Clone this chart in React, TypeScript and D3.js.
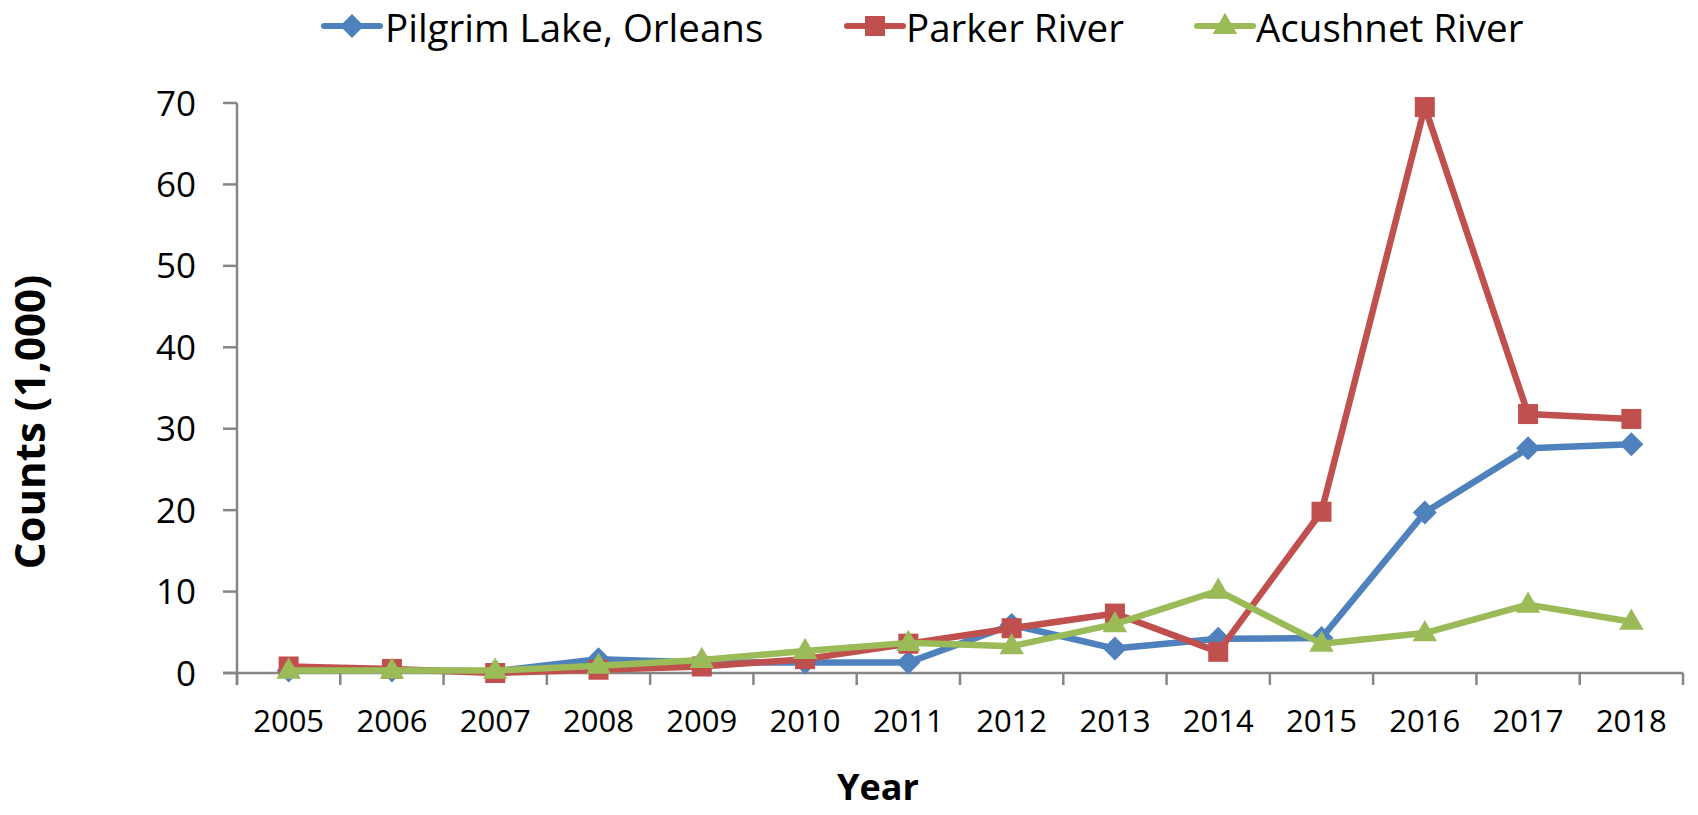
import React from "react";
import * as d3 from "d3";

const years = ["2005","2006","2007","2008","2009","2010","2011","2012","2013","2014","2015","2016","2017","2018"];
const pilgrim = [0.3, 0.3, 0.2, 1.7, 1.3, 1.3, 1.3, 5.9, 3.0, 4.2, 4.3, 19.7, 27.6, 28.1];
const parker = [0.8, 0.5, 0.0, 0.4, 0.8, 1.7, 3.6, 5.5, 7.3, 2.6, 19.8, 69.5, 31.8, 31.2];
const acushnet = [0.3, 0.3, 0.3, 0.9, 1.6, 2.7, 3.7, 3.3, 6.0, 10.1, 3.6, 4.9, 8.4, 6.3];
const yTicks = [0, 10, 20, 30, 40, 50, 60, 70];

const seriesNames = ["Pilgrim Lake, Orleans", "Parker River", "Acushnet River"];
const seriesColors = ["#4F81BD", "#C0504D", "#9BBB59"];
const seriesShapes = ["diamond", "square", "triangle"];
const seriesValues = [pilgrim, parker, acushnet];

const W = 1698, H = 815;
const left = 237, right = 1683, top = 103, bottom = 673;
const FONT = "'Open Sans', 'Noto Sans', sans-serif";

function Marker({ shape, x, y, color }: { shape: string; x: number; y: number; color: string }) {
  if (shape === "square") return <rect x={x - 10} y={y - 10} width={20} height={20} fill={color} />;
  if (shape === "diamond") {
    const r = 12;
    return <path d={`M${x},${y - r}L${x + r},${y}L${x},${y + r}L${x - r},${y}Z`} fill={color} />;
  }
  const p = d3.symbol().type(d3.symbolTriangle).size(260)();
  return <path d={p || ""} transform={`translate(${x},${y + 1})`} fill={color} />;
}

export default function App() {
  const x = d3.scaleBand().domain(years).range([left, right]).padding(0);
  const y = d3.scaleLinear().domain([0, 70]).range([bottom, top]);
  const cx = (yr: string) => (x(yr) as number) + x.bandwidth() / 2;
  const line = d3.line<number>().x((_, i) => cx(years[i])).y((v) => y(v));
  const boundaries = years.map((yr) => x(yr) as number).concat([right]);
  const axisColor = "#868686";

  const legendItems = [
    { marker: 352, text: 385 },
    { marker: 875, text: 906 },
    { marker: 1225, text: 1256 },
  ];

  return (
    <svg width={W} height={H} style={{ position: "absolute", left: 0, top: 0, background: "#fff" }} fontFamily={FONT}>
      {/* y axis */}
      <line x1={left} x2={left} y1={top} y2={bottom + 12} stroke={axisColor} strokeWidth={2.5} />
      {yTicks.map((t) => (
        <g key={t}>
          <line x1={left - 14} x2={left} y1={y(t)} y2={y(t)} stroke={axisColor} strokeWidth={2.5} />
          <text x={196} y={y(t)} dy="0.36em" textAnchor="end" fontSize={35} fill="#000">{t}</text>
        </g>
      ))}
      {/* x axis */}
      <line x1={left - 14} x2={right} y1={bottom} y2={bottom} stroke={axisColor} strokeWidth={2.5} />
      {boundaries.map((b, i) => (
        <line key={i} x1={b} x2={b} y1={bottom} y2={bottom + 12} stroke={axisColor} strokeWidth={2.5} />
      ))}
      {years.map((yr) => (
        <text key={yr} x={cx(yr)} y={732} textAnchor="middle" fontSize={31} fill="#000">{yr}</text>
      ))}
      {/* titles */}
      <text x={878} y={800} textAnchor="middle" fontSize={36} fontWeight="bold">Year</text>
      <text transform={`translate(45,422) rotate(-90)`} textAnchor="middle" fontSize={42} fontWeight="bold">Counts (1,000)</text>
      {/* series */}
      {seriesValues.map((vals, si) => (
        <g key={si}>
          <path d={line(vals) || ""} fill="none" stroke={seriesColors[si]} strokeWidth={6.5} strokeLinejoin="round" />
          {vals.map((v, i) => (
            <Marker key={i} shape={seriesShapes[si]} x={cx(years[i])} y={y(v)} color={seriesColors[si]} />
          ))}
        </g>
      ))}
      {/* legend */}
      {legendItems.map((it, i) => (
        <g key={i}>
          <line x1={it.marker - 28} x2={it.marker + 28} y1={26} y2={26} stroke={seriesColors[i]} strokeWidth={6} strokeLinecap="round" />
          <Marker shape={seriesShapes[i]} x={it.marker} y={26} color={seriesColors[i]} />
          <text x={it.text} y={41.5} fontSize={38.5} fill="#000">{seriesNames[i]}</text>
        </g>
      ))}
    </svg>
  );
}
